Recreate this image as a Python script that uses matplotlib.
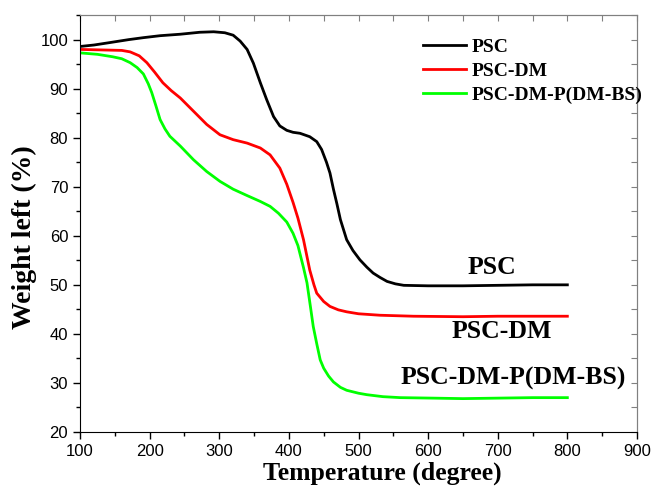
import matplotlib.pyplot as plt
from matplotlib.ticker import MultipleLocator, NullFormatter

# TGA curves
psc_t = [100, 120, 143, 170, 191, 215, 244, 272, 292, 308, 320, 330, 340, 349,
         359, 368, 378, 387, 397, 406, 416, 430, 440, 447, 454, 459, 464, 469,
         474, 483, 492, 502, 512, 521, 531, 541, 553, 565, 600, 650, 700, 750, 800]
psc_w = [98.6, 98.9, 99.4, 100.0, 100.4, 100.8, 101.1, 101.5, 101.6, 101.4,
         100.9, 99.7, 98.0, 95.2, 91.2, 87.8, 84.3, 82.4, 81.5, 81.1, 80.9,
         80.2, 79.2, 77.6, 75.0, 72.8, 69.5, 66.5, 63.3, 59.2, 57.0, 55.1,
         53.6, 52.4, 51.5, 50.7, 50.2, 49.9, 49.8, 49.8, 49.9, 50.0, 50.0]

dm_t = [100, 130, 160, 172, 185, 196, 207, 219, 231, 244, 263, 282, 301, 320,
        340, 359, 373, 387, 397, 406, 413, 421, 430, 436, 440, 450, 459, 471,
        483, 500, 531, 579, 650, 700, 750, 800]
dm_w = [98.0, 97.9, 97.8, 97.5, 96.7, 95.3, 93.4, 91.2, 89.6, 88.1, 85.4, 82.7,
        80.6, 79.6, 78.9, 77.9, 76.5, 73.8, 70.5, 66.8, 63.6, 59.2, 53.0, 50.0,
        48.3, 46.6, 45.6, 44.9, 44.5, 44.1, 43.8, 43.6, 43.5, 43.6, 43.6, 43.6]

dmp_t = [100, 125, 147, 160, 172, 182, 191, 198, 203, 209, 215, 222, 229, 244,
         263, 282, 301, 320, 340, 359, 373, 385, 397, 406, 413, 421, 426, 431,
         435, 440, 445, 450, 457, 464, 474, 483, 500, 512, 535, 560, 607, 650,
         700, 750, 800]
dmp_w = [97.3, 97.0, 96.5, 96.1, 95.3, 94.3, 93.0, 91.0, 89.2, 86.5, 83.7, 81.8,
         80.3, 78.3, 75.5, 73.1, 71.1, 69.5, 68.2, 67.0, 66.0, 64.6, 62.8, 60.5,
         58.0, 53.5, 50.4, 45.5, 41.5, 38.0, 34.7, 33.0, 31.4, 30.2, 29.1, 28.5,
         27.9, 27.6, 27.2, 27.0, 26.9, 26.8, 26.9, 27.0, 27.0]

labels = ['PSC', 'PSC-DM', 'PSC-DM-P(DM-BS)']
colors = ['#000000', '#ff0000', '#00ff00']
end_labels = [(692, 53.5), (706, 40.4), (722, 31.0)]

serif = ['Liberation Serif', 'DejaVu Serif']
sans = ['Liberation Sans', 'DejaVu Sans']

fig = plt.figure(figsize=(6.56, 4.87), dpi=100)
ax = fig.add_axes([0.122, 0.113, 0.849, 0.856])

for t, w, lab, c in zip([psc_t, dm_t, dmp_t], [psc_w, dm_w, dmp_w], labels, colors):
    ax.plot(t, w, color=c, lw=2.0, label=lab)

for (x, y), lab in zip(end_labels, labels):
    ax.text(x, y, lab, ha='center', va='center', fontsize=18.5,
            fontweight='bold', family=serif)

ax.set_xlim(100, 900)
ax.set_ylim(20, 105)
ax.xaxis.set_major_locator(MultipleLocator(100))
ax.xaxis.set_minor_locator(MultipleLocator(50))
ax.set_yticks([20, 30, 40, 50, 60, 70, 80, 90, 100])
ax.yaxis.set_minor_locator(MultipleLocator(5))
ax.tick_params(which='major', direction='out', length=5, width=1, labelsize=12)
ax.tick_params(which='minor', direction='out', length=3, width=1)
for lbl in ax.get_xticklabels() + ax.get_yticklabels():
    lbl.set_family(sans)

ax.spines['top'].set_color('#808080')
ax.spines['right'].set_color('#808080')

# gray inward ticks on top and right
top = ax.secondary_xaxis('top')
top.xaxis.set_major_locator(MultipleLocator(50))
top.xaxis.set_major_formatter(NullFormatter())
top.tick_params(direction='in', length=4, color='#808080')
top.spines['top'].set_color('#808080')
right = ax.secondary_yaxis('right')
right.yaxis.set_major_locator(MultipleLocator(5))
right.yaxis.set_major_formatter(NullFormatter())
right.tick_params(direction='in', length=4, color='#808080')
right.spines['right'].set_color('#808080')

ax.set_xlabel('Temperature (degree)', fontsize=18.5, fontweight='bold',
              family=serif, labelpad=2)
ax.xaxis.label.set_x(0.542)
ax.set_ylabel('Weight left (%)', fontsize=20, fontweight='bold', family=serif)
ax.yaxis.set_label_coords(-0.077, 0.468)

ax.legend(loc='upper left', bbox_to_anchor=(0.616, 0.945), frameon=False,
          prop={'family': serif, 'weight': 'bold', 'size': 14},
          handlelength=2.2, handletextpad=0.3, labelspacing=0.33,
          borderpad=0, borderaxespad=0)

fig.savefig('out.png', dpi=100)
